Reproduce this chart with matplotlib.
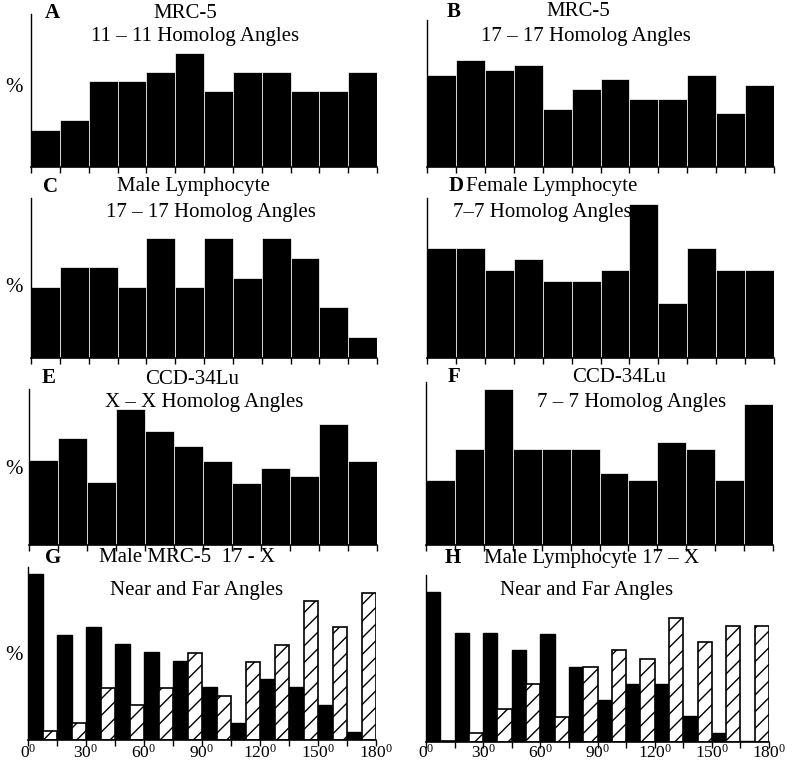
import matplotlib
matplotlib.use("Agg")
import matplotlib.pyplot as plt
import numpy as np

plt.rcParams['font.family'] = ['Liberation Serif', 'DejaVu Serif']
plt.rcParams['mathtext.fontset'] = 'custom'
plt.rcParams['mathtext.rm'] = 'Liberation Serif'
plt.rcParams['mathtext.it'] = 'Liberation Serif'
plt.rcParams['hatch.linewidth'] = 1.0

# bin starts (degrees), 15 degree bins
bins = np.arange(0, 180, 15)

# bar heights (arbitrary % units)
a_vals = [37, 47, 86, 86, 95, 114, 76, 95, 95, 76, 76, 95]
b_vals = [92, 107, 97, 102, 58, 78, 88, 68, 68, 92, 54, 82]
c_vals = [71, 91, 91, 71, 120, 71, 120, 80, 120, 100, 51, 21]
d_vals = [110, 110, 88, 99, 77, 77, 88, 154, 55, 110, 88, 88]
e_vals = [85, 107, 63, 136, 114, 99, 84, 62, 77, 69, 121, 84]
f_vals = [65, 96, 156, 96, 96, 96, 72, 65, 103, 96, 65, 141]
g_near = [166, 105, 113, 96, 88, 79, 53, 17, 61, 53, 35, 8]
g_far = [9, 17, 52, 35, 52, 87, 44, 78, 95, 139, 113, 147]
h_near = [150, 109, 109, 92, 108, 75, 42, 58, 58, 26, 9, 1]
h_far = [1, 9, 33, 58, 25, 75, 92, 83, 124, 100, 116, 116]

tick_pos = np.arange(0, 181, 15)
tick_lbl = [r'$%d^{0}$' % t if t % 30 == 0 else '' for t in tick_pos]

W, H = 792, 764
fig = plt.figure(figsize=(W / 100, H / 100), dpi=100)


def panel(x0, x1, ytop, ybase):
    ax = fig.add_axes([x0 / W, 1 - ybase / H, (x1 - x0) / W, (ybase - ytop) / H])
    ax.set_xlim(0, 180)
    ax.set_ylim(0, ybase - ytop)
    ax.spines['top'].set_visible(False)
    ax.spines['right'].set_visible(False)
    ax.spines['left'].set_linewidth(1.0)
    ax.spines['bottom'].set_linewidth(1.2)
    ax.set_yticks([])
    ax.set_xticks(tick_pos)
    ax.set_xticklabels([])
    ax.tick_params(axis='x', direction='out', length=4, width=1.0)
    return ax


def txt(x, y, s, **kw):
    fig.text(x / W, 1 - y / H, s, ha=kw.pop('ha', 'center'), va='center', **kw)


def solid(ax, vals):
    ax.bar(bins, vals, width=15, align='edge', color='black',
           edgecolor='white', linewidth=0.5)


def paired(ax, near, far, pad):
    ax.bar(bins, near, width=7.5, align='edge', color='black',
           edgecolor='black', linewidth=1.0)
    ax.bar(bins + 7.5, far, width=7.5, align='edge', color='white',
           edgecolor='black', linewidth=1.2, hatch='//')
    ax.set_xticklabels(tick_lbl, fontsize=12.5)
    ax.tick_params(axis='x', pad=pad)


# A
ax = panel(31, 377, 14, 167)
solid(ax, a_vals)
# B
ax = panel(427, 774, 20, 167)
solid(ax, b_vals)
# C
ax = panel(31, 377, 198, 358)
solid(ax, c_vals)
# D
ax = panel(427, 774, 198, 358)
solid(ax, d_vals)
# E
ax = panel(29, 377, 389, 545)
solid(ax, e_vals)
# F
ax = panel(426, 773, 382, 545)
solid(ax, f_vals)
# G
ax = panel(28, 376, 567, 740)
paired(ax, g_near, g_far, -1.5)
# H
ax = panel(426, 769, 575, 742)
paired(ax, h_near, h_far, -3)

fs = 15
# panel letters
for x, y, s in [(52, 13, 'A'), (454, 12, 'B'), (50, 187, 'C'), (456, 186, 'D'),
                (49, 378, 'E'), (454, 377, 'F'), (53, 558, 'G'), (453, 558, 'H')]:
    txt(x, y, s, fontsize=fs, fontweight='bold')

# titles
txt(185, 13, 'MRC-5', fontsize=fs)
txt(195, 37, '11 \u2013 11 Homolog Angles', fontsize=fs)
txt(578, 12, 'MRC-5', fontsize=fs)
txt(586, 37, '17 \u2013 17 Homolog Angles', fontsize=fs)
txt(193, 187, 'Male Lymphocyte', fontsize=fs)
txt(211, 212, '17 \u2013 17 Homolog Angles', fontsize=fs)
txt(552, 186, 'Female Lymphocyte', fontsize=fs)
txt(542, 212, '7\u20137 Homolog Angles', fontsize=fs)
txt(192, 379, 'CCD-34Lu', fontsize=fs)
txt(204, 403, 'X \u2013 X Homolog Angles', fontsize=fs)
txt(619, 377, 'CCD-34Lu', fontsize=fs)
txt(632, 403, '7 \u2013 7 Homolog Angles', fontsize=fs)
txt(187, 558, 'Male MRC-5  17 - X', fontsize=fs)
txt(197, 590, 'Near and Far Angles', fontsize=fs)
txt(592, 558, 'Male Lymphocyte 17 \u2013 X', fontsize=fs)
txt(587, 590, 'Near and Far Angles', fontsize=fs)

# y labels
for y in [88, 287, 470, 655]:
    txt(14, y, '%', fontsize=15)

fig.savefig('out.png', dpi=100)
